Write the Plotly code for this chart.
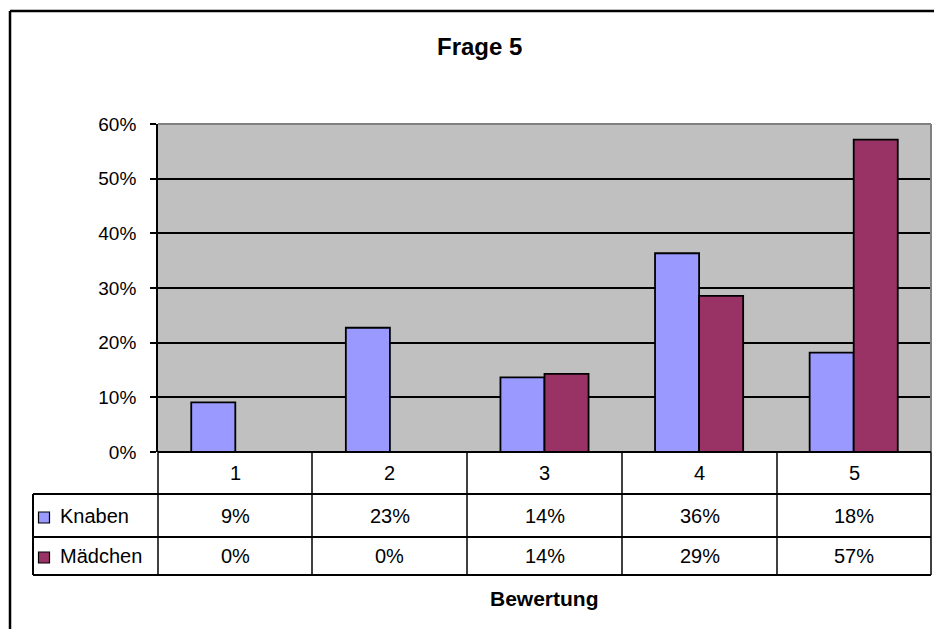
import plotly.graph_objects as go

# ---- data ----
categories = ["1", "2", "3", "4", "5"]
series_names = ["Knaben", "Mädchen"]
knaben = [0.0909, 0.2273, 0.1364, 0.3636, 0.1818]
maedchen = [0.0, 0.0, 0.1429, 0.2857, 0.5714]
knaben_labels = ["9%", "23%", "14%", "36%", "18%"]
maedchen_labels = ["0%", "0%", "14%", "29%", "57%"]
title_text = "Frage 5"
x_title = "Bewertung"

colors = ["#9999FF", "#993366"]
FONT = "Liberation Sans, Arial, sans-serif"

# ---- layout geometry (pixels) ----
W, H = 934, 629
L, R, T, B = 158, 931, 124, 452


def px(x):
    return (x - L) / (R - L)


def py(y):
    return (B - y) / (B - T)


fig = go.Figure()
for name, vals, col in zip(series_names, [knaben, maedchen], colors):
    fig.add_trace(go.Bar(
        x=categories, y=vals, name=name,
        marker=dict(color=col, line=dict(color="black", width=1.8)),
        showlegend=False, hoverinfo="skip",
    ))

fig.update_layout(
    width=W, height=H,
    margin=dict(l=L, r=W - R, t=T, b=H - B),
    paper_bgcolor="white",
    plot_bgcolor="#C0C0C0",
    barmode="group", bargap=0.43, bargroupgap=0,
    font=dict(family=FONT, color="black"),
)
fig.update_xaxes(showticklabels=False, showgrid=False, zeroline=False,
                 ticks="", showline=False, range=[-0.5, 4.5])
fig.update_yaxes(range=[0, 0.6], dtick=0.1, tickformat=".0%",
                 showgrid=True, gridcolor="black", gridwidth=1.5,
                 ticks="outside", ticklen=6, tickcolor="black", tickwidth=1.5,
                 showline=True, linecolor="black", linewidth=1.8,
                 zeroline=False, ticklabelstandoff=10,
                 tickfont=dict(size=19, family=FONT, color="black"))

shapes = []


def line(x0, y0, x1, y1, color="black", width=1.5):
    shapes.append(dict(type="line", xref="paper", yref="paper",
                       x0=px(x0), y0=py(y0), x1=px(x1), y1=py(y1),
                       line=dict(color=color, width=width), layer="above"))


# plot area border (top/right gray)
line(L, T, R, T, "#808080", 2)
line(R, T, R, B, "#808080", 2)

# data table
cols = [158, 312, 467, 622, 777, 931]
rows = [452, 494, 537, 575]
line(L, rows[0], R, rows[0], width=2)
for yv in rows[1:]:
    line(33, yv, R, yv, width=2)
for xv in cols:
    line(xv, rows[0], xv, rows[-1], width=1.5)
line(33, rows[1], 33, rows[-1], width=2)

# outer chart border
line(10, 11, 940, 11, width=2.5)
line(10, 11, 10, 640, width=2.5)

# legend keys in table
key_centers = [517.5, 557.5]
for yc, col in zip(key_centers, colors):
    shapes.append(dict(type="rect", xref="paper", yref="paper",
                       x0=px(38.5), x1=px(49.5), y0=py(yc - 5.5), y1=py(yc + 5.5),
                       fillcolor=col, line=dict(color="black", width=1.2),
                       layer="above"))

ann = []
ann.append(dict(text=f"<b>{title_text}</b>", x=px(479), y=py(47),
                xref="paper", yref="paper", showarrow=False,
                xanchor="center", yanchor="middle",
                font=dict(size=24, family=FONT, color="black")))
ann.append(dict(text=f"<b>{x_title}</b>", x=px(544), y=py(598),
                xref="paper", yref="paper", showarrow=False,
                xanchor="center", yanchor="middle",
                font=dict(size=21, family=FONT, color="black")))

row_centers = [(rows[0] + rows[1]) / 2, (rows[1] + rows[2]) / 2, (rows[2] + rows[3]) / 2]
for i, c in enumerate(categories):
    xc = (cols[i] + cols[i + 1]) / 2
    for txt, yc in zip([c, knaben_labels[i], maedchen_labels[i]], row_centers):
        ann.append(dict(text=txt, x=px(xc), y=py(yc), xref="paper", yref="paper",
                        showarrow=False, xanchor="center", yanchor="middle",
                        font=dict(size=20, family=FONT, color="black")))
for name, yc in zip(series_names, row_centers[1:]):
    ann.append(dict(text=name, x=px(58), y=py(yc), xref="paper", yref="paper",
                    showarrow=False, xanchor="left", yanchor="middle",
                    font=dict(size=20, family=FONT, color="black")))

fig.update_layout(shapes=shapes, annotations=ann)
fig.write_html("out.html")
